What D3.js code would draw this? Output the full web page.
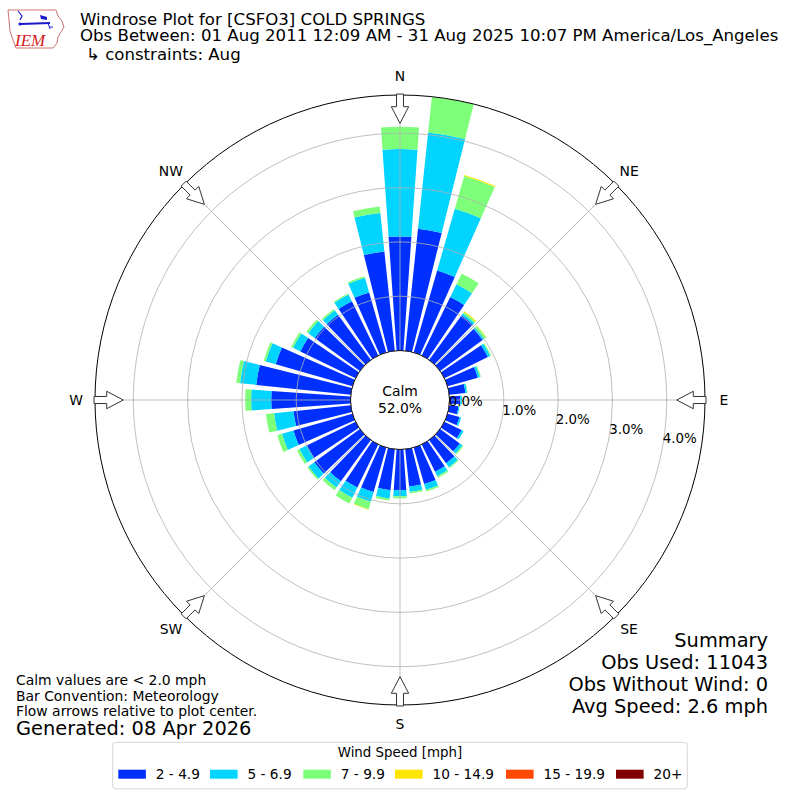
<!DOCTYPE html>
<html>
<head>
<meta charset="utf-8">
<script src="https://cdn.jsdelivr.net/npm/d3@7/dist/d3.min.js"></script>
<style>
    body { margin: 0; background: #fff; }
    svg { font-family: "DejaVu Sans", sans-serif; }
</style>
</head>
<body>
<svg id="chart" width="800" height="800"></svg>
<script>
// direction bins (degrees, meteorological: from where the wind blows)
const directions = [0, 10, 20, 30, 40, 50, 60, 70, 80, 90, 100, 110,
    120, 130, 140, 150, 160, 170, 180, 190, 200, 210, 220, 230,
    240, 250, 260, 270, 280, 290, 300, 310, 320, 330, 340, 350];

// percent of observations per direction, one array per speed bin
const pct2to5 = [2.10, 2.26, 1.57, 1.20, 1.02, 0.97, 0.89, 0.58, 0.30, 0.20, 0.17, 0.23,
    0.35, 0.45, 0.53, 0.56, 0.70, 0.69, 0.75, 0.76, 0.85, 0.88, 0.94, 1.04,
    1.00, 1.13, 1.06, 1.46, 1.75, 1.47, 1.13, 1.03, 1.03, 1.11, 1.15, 1.84];
const pct5to7 = [1.61, 1.78, 1.18, 0.26, 0.04, 0.04, 0.05, 0.04, 0.03, 0.03, 0.02, 0.03,
    0.04, 0.06, 0.09, 0.09, 0.11, 0.10, 0.11, 0.15, 0.19, 0.21, 0.14, 0.13,
    0.15, 0.22, 0.36, 0.37, 0.30, 0.19, 0.15, 0.15, 0.10, 0.14, 0.28, 0.71];
const pct7to10 = [0.41, 0.66, 0.63, 0.22, 0.03, 0.04, 0.02, 0.02, 0.01, 0, 0, 0,
    0, 0.02, 0.02, 0.03, 0.03, 0.03, 0.04, 0.04, 0.14, 0.12, 0.06, 0.03,
    0.05, 0.09, 0.15, 0.11, 0.07, 0.04, 0.04, 0.04, 0.03, 0.02, 0.03, 0.12];
const pct10to15 = [0, 0, 0.02, 0, 0.02, 0.01, 0, 0, 0, 0, 0, 0,
    0, 0, 0, 0, 0, 0, 0, 0, 0.01, 0, 0, 0,
    0, 0, 0, 0, 0, 0, 0, 0, 0, 0, 0, 0];
const pct15to20 = [0, 0, 0, 0, 0, 0, 0, 0, 0, 0, 0, 0,
    0, 0, 0, 0, 0, 0, 0, 0, 0, 0, 0, 0,
    0, 0, 0, 0, 0, 0, 0, 0, 0, 0, 0, 0];
const pct20plus = [0, 0, 0, 0, 0, 0, 0, 0, 0, 0, 0, 0,
    0, 0, 0, 0, 0, 0, 0, 0, 0, 0, 0, 0,
    0, 0, 0, 0, 0, 0, 0, 0, 0, 0, 0, 0];

const speedLabels = ["2 - 4.9", "5 - 6.9", "7 - 9.9", "10 - 14.9", "15 - 19.9", "20+"];
const speedColors = ["#0030ff", "#00d4ff", "#7dff7a", "#ffe500", "#ff4800", "#800000"];

const radialTicks = [0, 1, 2, 3, 4];
const radialMax = 4.705;
const compassLabels = ["N", "NE", "E", "SE", "S", "SW", "W", "NW"];
const compassAngles = [0, 45, 90, 135, 180, 225, 270, 315];

const calmPct = 52.0;
const titleLines = ["Windrose Plot for [CSFO3] COLD SPRINGS",
    "Obs Between: 01 Aug 2011 12:09 AM - 31 Aug 2025 10:07 PM America/Los_Angeles",
    "\u21b3 constraints: Aug"];
const noteLines = ["Calm values are < 2.0 mph", "Bar Convention: Meteorology",
    "Flow arrows relative to plot center."];
const generated = "Generated: 08 Apr 2026";
const summaryLines = ["Summary", "Obs Used: 11043", "Obs Without Wind: 0", "Avg Speed: 2.6 mph"];

/** Class drawing the wind rose. */
class WindRose {
    constructor() {
        this.svg = d3.select('#chart');
        this.cx = 400;
        this.cy = 400;
        this.r = d3.scaleLinear().domain([0, radialMax]).range([49.5, 305]);
        this.bins = [pct2to5, pct5to7, pct7to10, pct10to15, pct15to20, pct20plus];
        this.plot = this.svg.append('g').attr('transform', `translate(${this.cx},${this.cy})`);
    }

    /** point at bearing a (deg), radius r, lateral offset w */
    polar(a, r, w) {
        const t = a * Math.PI / 180;
        return [r * Math.sin(t) + w * Math.cos(t), -r * Math.cos(t) + w * Math.sin(t)];
    }

    drawBars() {
        const arc = d3.arc();
        const half = 4 * Math.PI / 180;
        const segs = [];
        directions.forEach((d, i) => {
            let base = 0;
            this.bins.forEach((bin, j) => {
                const v = bin[i];
                if (v > 0) segs.push({dir: d, from: base, to: base + v, color: speedColors[j]});
                base += v;
            });
        });

        this.plot.append('g').selectAll('path')
            .data(segs)
            .enter()
            .append('path')
            .attr('d', s => arc({
                innerRadius: this.r(s.from),
                outerRadius: this.r(s.to),
                startAngle: s.dir * Math.PI / 180 - half,
                endAngle: s.dir * Math.PI / 180 + half
            }))
            .attr('fill', s => s.color);
    }

    drawGrid() {
        const g = this.plot.append('g');
        g.selectAll('circle.grid')
            .data(radialTicks.filter(t => t > 0))
            .enter()
            .append('circle')
            .attr('r', t => this.r(t))
            .attr('fill', 'none')
            .style('stroke', '#b0b0b0')
            .style('stroke-width', '0.8px');

        g.selectAll('line')
            .data(compassAngles)
            .enter()
            .append('line')
            .attr('x1', a => this.polar(a, this.r(0), 0)[0])
            .attr('y1', a => this.polar(a, this.r(0), 0)[1])
            .attr('x2', a => this.polar(a, this.r(radialMax), 0)[0])
            .attr('y2', a => this.polar(a, this.r(radialMax), 0)[1])
            .style('stroke', '#b0b0b0')
            .style('stroke-width', '0.8px');

        g.append('circle')
            .attr('r', this.r(radialMax))
            .attr('fill', 'none')
            .style('stroke', '#000')
            .style('stroke-width', '1px');

        // calm circle
        g.append('circle')
            .attr('r', this.r(0))
            .attr('fill', '#fff')
            .style('stroke', '#000')
            .style('stroke-width', '1px');
        g.append('text').attr('y', -4).attr('text-anchor', 'middle')
            .style('font-size', '13.9px').text('Calm');
        g.append('text').attr('y', 13).attr('text-anchor', 'middle')
            .style('font-size', '13.9px').text(calmPct.toFixed(1) + '%');

        // radial tick labels, placed a little below the east axis
        const tilt = Math.sin(9.8 * Math.PI / 180);
        g.selectAll('text.rtick')
            .data(radialTicks)
            .enter()
            .append('text')
            .attr('x', t => this.r(t) * 0.985)
            .attr('y', t => this.r(t) * tilt - 7.4)
            .attr('dy', '0.36em')
            .style('font-size', '13.4px')
            .text(t => t.toFixed(1) + '%');
    }

    drawArrows() {
        const shape = [[306, -3.5], [293.3, -3.5], [293.3, -8.7], [276.7, 0],
            [293.3, 8.7], [293.3, 3.5], [306, 3.5]];
        const line = d3.line();
        this.plot.append('g').selectAll('path')
            .data(compassAngles)
            .enter()
            .append('path')
            .attr('d', a => line(shape.map(p => this.polar(a, p[0], p[1]))) + 'Z')
            .attr('fill', '#fff')
            .style('stroke', '#333')
            .style('stroke-width', '1px');

        this.plot.append('g').selectAll('text')
            .data(compassAngles)
            .enter()
            .append('text')
            .attr('x', a => this.polar(a, 324, 0)[0])
            .attr('y', a => this.polar(a, 324, 0)[1])
            .attr('dy', '0.36em')
            .attr('text-anchor', 'middle')
            .style('font-size', '13.9px')
            .text((a, i) => compassLabels[i]);
    }

    drawLegend() {
        const lg = this.svg.append('g');
        lg.append('rect')
            .attr('x', 112.7).attr('y', 742.3)
            .attr('width', 574.6).attr('height', 46.5)
            .attr('rx', 3)
            .attr('fill', '#fff')
            .style('stroke', '#d6d6d6')
            .style('stroke-width', '1px');
        lg.append('text').attr('x', 400).attr('y', 757)
            .attr('text-anchor', 'middle').style('font-size', '13.4px')
            .text('Wind Speed [mph]');
        const swatchX = [118.3, 210, 303.3, 395, 506, 616];
        speedLabels.forEach((lab, i) => {
            lg.append('rect').attr('x', swatchX[i]).attr('y', 769.7)
                .attr('width', 27.6).attr('height', 9).attr('fill', speedColors[i]);
            lg.append('text').attr('x', swatchX[i] + 37.5).attr('y', 779)
                .style('font-size', '13.7px').text(lab);
        });
    }

    drawText() {
        const s = this.svg;
        const tl = [25, 41, 60];
        titleLines.forEach((t, i) => {
            s.append('text').attr('x', i === 2 ? 86 : 80).attr('y', tl[i])
                .style('font-size', '16.6px').text(t);
        });
        const nl = [685, 700.5, 716];
        noteLines.forEach((t, i) => {
            s.append('text').attr('x', 16).attr('y', nl[i])
                .style('font-size', '13.9px').text(t);
        });
        s.append('text').attr('x', 16).attr('y', 734.5)
            .style('font-size', '19.4px').text(generated);
        const sl = [647, 669, 691, 713];
        summaryLines.forEach((t, i) => {
            s.append('text').attr('x', 768).attr('y', sl[i])
                .attr('text-anchor', 'end')
                .style('font-size', '19.4px').text(t);
        });
    }

    /** small IEM logo, top left */
    drawLogo() {
        const g = this.svg.append('g');
        const outline = [[8, 10], [56, 10], [58, 16], [62, 21], [64, 27], [61, 32], [58, 37],
            [57, 43], [53, 48], [16, 48], [13, 40], [10, 31], [9, 20], [8, 10]];
        g.append('path').attr('d', d3.line().curve(d3.curveLinear)(outline))
            .attr('fill', 'none').style('stroke', '#c0504d').style('stroke-width', '0.8px');
        g.append('line').attr('x1', 21).attr('y1', 24).attr('x2', 50).attr('y2', 23)
            .style('stroke', '#1a1acc').style('stroke-width', '2px');
        g.append('path').attr('d', 'M40,15 L47,17 L47,20 L41,19 Z').attr('fill', '#1a1acc');
        g.append('path').attr('d', 'M18,11 L22,16 L20,20').attr('fill', 'none')
            .style('stroke', '#1a1acc').style('stroke-width', '1.2px');
        g.append('circle').attr('cx', 20).attr('cy', 24).attr('r', 1.6).attr('fill', '#1a1acc');
        g.append('path').attr('d', 'M48,23 L50,29 M50,27 L53,27').attr('fill', 'none')
            .style('stroke', '#1a1acc').style('stroke-width', '1px');
        g.append('text').attr('x', 15).attr('y', 45.5)
            .style('font-family', '"Liberation Serif", serif')
            .style('font-style', 'italic')
            .style('font-size', '17px')
            .attr('fill', '#d42020')
            .text('IEM');
    }
}

const rose = new WindRose();
rose.drawBars();
rose.drawGrid();
rose.drawArrows();
rose.drawLegend();
rose.drawText();
rose.drawLogo();
</script>
</body>
</html>
